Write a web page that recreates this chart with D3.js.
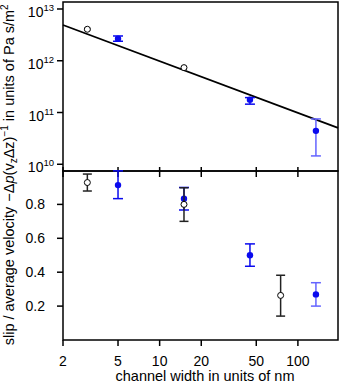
<!DOCTYPE html>
<html>
<head>
<meta charset="utf-8">
<script src="https://cdn.jsdelivr.net/npm/d3@7"></script>
<style>
  body { margin: 0; background: #fff; }
  svg text { font-family: "Liberation Sans", Arial, sans-serif; fill: #000; }
</style>
</head>
<body>
<div id="chart"></div>
<script>
// channel widths (nm)
const xTicks = [2, 5, 10, 20, 50, 100];

// top panel: -dp/(vz dz) in Pa s/m^2
const resOpenX = [3, 15];
const resOpenY = [4.06e12, 7.36e11];
const resOpenLo = [3.9e12, 7.1e11];
const resOpenHi = [4.2e12, 7.6e11];
const resBlueX = [5, 45, 135];
const resBlueY = [2.67e12, 1.77e11, 4.42e10];
const resBlueLo = [2.38e12, 1.45e11, 1.45e10];
const resBlueHi = [3.01e12, 1.94e11, 7.52e10];
const resTicks = [1e10, 1e11, 1e12, 1e13];
const fitX = [2, 195];
const fitY = [4.9e12, 5.03e10];

// bottom panel: slip / average velocity
const slipOpenX = [3, 15, 75];
const slipOpenY = [0.929, 0.80, 0.263];
const slipOpenLo = [0.879, 0.70, 0.141];
const slipOpenHi = [0.979, 0.898, 0.382];
const slipBlueX = [5, 15, 45, 135];
const slipBlueY = [0.914, 0.834, 0.50, 0.269];
const slipBlueLo = [0.834, 0.767, 0.435, 0.20];
const slipBlueHi = [0.998, 0.90, 0.567, 0.338];
const slipTicks = [0.2, 0.4, 0.6, 0.8];

const width = 341, height = 383;
const left = 63, right = 338;
const topY0 = 2, midY = 171, botY1 = 340;

const svg = d3.select("#chart").append("svg")
  .attr("width", width).attr("height", height);

const x = d3.scaleLog().domain([2, 195]).range([left, right]);
const yTop = d3.scaleLog().domain([Math.pow(10, 9.87), Math.pow(10, 13.135)]).range([midY, topY0]);
const yBot = d3.scaleLinear().domain([0, 1]).range([botY1, midY - 0.5]);

const blue = "#0a0aee", lightBlue = "#6464ff";

// frames
svg.append("rect").attr("x", left).attr("y", topY0).attr("width", right - left).attr("height", midY - topY0)
  .attr("fill", "none").attr("stroke", "#000").attr("stroke-width", 1.5);
svg.append("rect").attr("x", left).attr("y", midY).attr("width", right - left).attr("height", botY1 - midY)
  .attr("fill", "none").attr("stroke", "#000").attr("stroke-width", 1.5);

// x ticks on the middle line and bottom
const tk = svg.append("g").attr("stroke", "#000").attr("stroke-width", 1.5);
xTicks.forEach(t => {
  tk.append("line").attr("x1", x(t)).attr("x2", x(t)).attr("y1", midY - 4).attr("y2", midY + 6);
  tk.append("line").attr("x1", x(t)).attr("x2", x(t)).attr("y1", botY1).attr("y2", botY1 + 6);
});
svg.append("g").selectAll("text").data(xTicks).join("text")
  .attr("x", d => x(d)).attr("y", 366).attr("text-anchor", "middle")
  .style("font-size", "14px").text(d => d);

// y ticks
resTicks.forEach(t => {
  tk.append("line").attr("x1", left - 6).attr("x2", left).attr("y1", yTop(t)).attr("y2", yTop(t));
});
slipTicks.forEach(t => {
  tk.append("line").attr("x1", left - 6).attr("x2", left).attr("y1", yBot(t)).attr("y2", yBot(t));
});

const rl = svg.append("g").selectAll("text").data(resTicks).join("text")
  .attr("x", 54).attr("y", d => yTop(d) + 8).attr("text-anchor", "end")
  .style("font-size", "14px");
rl.append("tspan").text("10");
rl.append("tspan").attr("dy", -6).style("font-size", "9.5px").text(d => Math.round(Math.log10(d)));

svg.append("g").selectAll("text").data(slipTicks).join("text")
  .attr("x", 45).attr("y", d => yBot(d) + 5).attr("text-anchor", "end")
  .style("font-size", "14px").text(d => d.toFixed(1));

// axis labels
svg.append("text").attr("x", 205).attr("y", 381).attr("text-anchor", "middle")
  .style("font-size", "14.5px").text("channel width in units of nm");

svg.append("text").attr("transform", "translate(14,276) rotate(-90)")
  .attr("text-anchor", "middle").style("font-size", "14.5px").text("slip / average velocity");

const ul = svg.append("text").attr("transform", "translate(14,103) rotate(-90)")
  .attr("text-anchor", "middle").style("font-size", "14.5px");
ul.append("tspan").text("\u2212\u0394");
ul.append("tspan").style("font-style", "italic").text("p");
ul.append("tspan").text("(v");
ul.append("tspan").attr("dy", 3).style("font-size", "10px").text("z");
ul.append("tspan").attr("dy", -3).text("\u0394z)");
ul.append("tspan").attr("dy", -6).style("font-size", "10px").text("\u22121");
ul.append("tspan").attr("dy", 6).text(" in units of Pa s/m");
ul.append("tspan").attr("dy", -6).style("font-size", "10px").text("2");

// fit line
svg.append("line")
  .attr("x1", x(fitX[0])).attr("y1", yTop(fitY[0]))
  .attr("x2", x(fitX[1])).attr("y2", yTop(fitY[1]))
  .attr("stroke", "#000").attr("stroke-width", 1.8);

function errorBars(g, xs, lo, hi, y, color, cap) {
  xs.forEach((xv, i) => {
    const c = typeof color === "function" ? color(i) : color;
    const gx = x(xv);
    g.append("line").attr("x1", gx).attr("x2", gx).attr("y1", y(lo[i])).attr("y2", y(hi[i]))
      .attr("stroke", c).attr("stroke-width", 1.5);
    [lo[i], hi[i]].forEach(v => {
      g.append("line").attr("x1", gx - cap).attr("x2", gx + cap).attr("y1", y(v)).attr("y2", y(v))
        .attr("stroke", c).attr("stroke-width", 1.5);
    });
  });
}

const dots = svg.append("g");
const blueCol = n => (i => i === n ? lightBlue : blue);

// top panel
errorBars(dots, resBlueX, resBlueLo, resBlueHi, yTop, blueCol(2), 5);
dots.selectAll(".rb").data(resBlueX).join("circle")
  .attr("cx", d => x(d)).attr("cy", (d, i) => yTop(resBlueY[i])).attr("r", 3.2).attr("fill", blue);
errorBars(dots, resOpenX, resOpenLo, resOpenHi, yTop, "#000", 3);
dots.selectAll(".ro").data(resOpenX).join("circle")
  .attr("cx", d => x(d)).attr("cy", (d, i) => yTop(resOpenY[i])).attr("r", 3)
  .attr("fill", "#fff").attr("stroke", "#000").attr("stroke-width", 1);

// bottom panel
const dots2 = svg.append("g");
errorBars(dots2, slipBlueX, slipBlueLo, slipBlueHi, yBot, blueCol(3), 5);
dots2.selectAll("circle.b").data(slipBlueX).join("circle").attr("class", "b")
  .attr("cx", d => x(d)).attr("cy", (d, i) => yBot(slipBlueY[i])).attr("r", 3.2).attr("fill", blue);
errorBars(dots2, slipOpenX, slipOpenLo, slipOpenHi, yBot, "#222", 4.5);
dots2.selectAll("circle.o").data(slipOpenX).join("circle").attr("class", "o")
  .attr("cx", d => x(d)).attr("cy", (d, i) => yBot(slipOpenY[i])).attr("r", 3)
  .attr("fill", "#fff").attr("stroke", "#000").attr("stroke-width", 1);
</script>
</body>
</html>
